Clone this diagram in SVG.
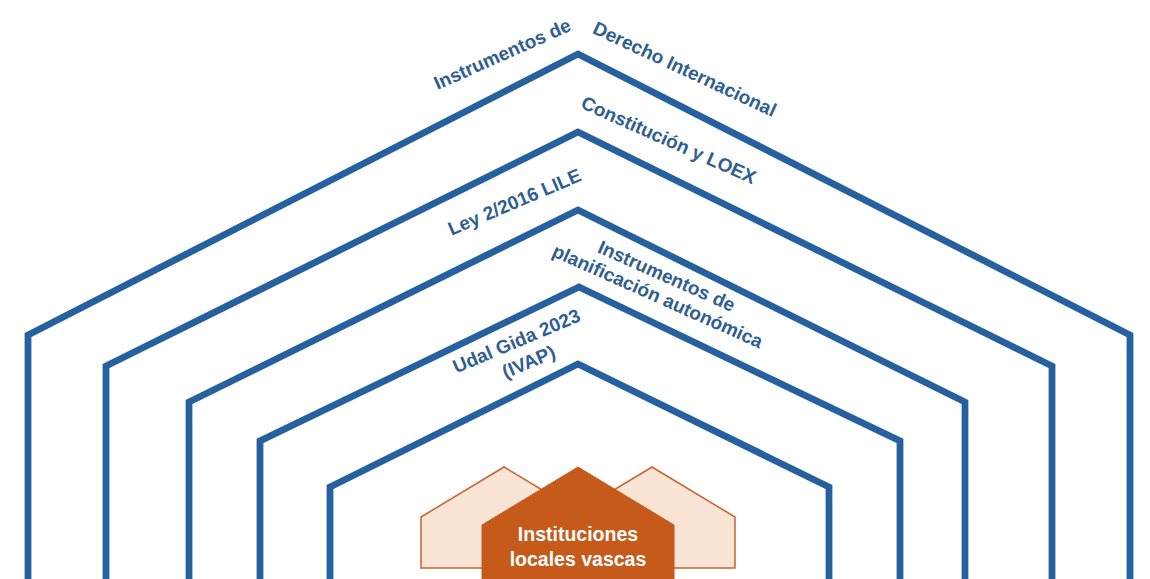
<svg xmlns="http://www.w3.org/2000/svg" width="1150" height="579" viewBox="0 0 1150 579">
  <style>
    .layer { fill: none; stroke: #26609f; stroke-width: 6.8; stroke-linejoin: miter; }
    .lbl { font-family: "Liberation Sans", Arial, sans-serif; font-weight: bold; font-size: 19px; fill: #2f5e91; text-anchor: middle; }
    .side { fill: #fae4d6; stroke: #c9632c; stroke-width: 1.5; }
    .main { fill: #c55a1b; stroke: #c55a1b; stroke-width: 1; }
    .in { font-family: "Liberation Sans", Arial, sans-serif; font-weight: bold; font-size: 19.5px; fill: #ffffff; text-anchor: middle; }
  </style>
  <rect width="1150" height="579" fill="#ffffff"/>

  <g id="layer-derecho-internacional">
    <polyline class="layer" points="28,585 28,335 578,54 1130,335 1130,585"/>
    <text class="lbl" transform="translate(505,60) rotate(-24)">Instrumentos de</text>
    <text class="lbl" transform="translate(682,75) rotate(25)">Derecho Internacional</text>
  </g>

  <g id="layer-constitucion">
    <polyline class="layer" points="106,585 106,366 578,132 1052,366 1052,585"/>
    <text class="lbl" transform="translate(666,146) rotate(24)">Constitución y LOEX</text>
  </g>

  <g id="layer-ley-lile">
    <polyline class="layer" points="189,585 189,402 578,210 965,402 965,585"/>
    <text class="lbl" transform="translate(517,208) rotate(-23)">Ley 2/2016 LILE</text>
  </g>

  <g id="layer-planificacion">
    <polyline class="layer" points="260,585 260,441 579,287 900,441 900,585"/>
    <text class="lbl" transform="translate(664,282) rotate(24)">Instrumentos de<tspan x="0" dy="22">planificación autonómica</tspan></text>
  </g>

  <g id="layer-udal-gida">
    <polyline class="layer" points="330,585 330,487 578,364 829,487 829,585"/>
    <text class="lbl" transform="translate(519,347) rotate(-23)">Udal Gida 2023<tspan x="3" dy="24">(IVAP)</tspan></text>
  </g>

  <g id="node-instituciones">
    <polygon class="side" points="421,568 421,517 504,467 587,517 587,568"/>
    <polygon class="side" points="569,568 569,517 652,467 735,517 735,568"/>
    <polygon class="main" points="482,585 482,525 578,467 674,525 674,585"/>
    <text class="in" x="578" y="541">Instituciones</text>
    <text class="in" x="578" y="566">locales vascas</text>
  </g>

  <g id="connectors"/>
</svg>
